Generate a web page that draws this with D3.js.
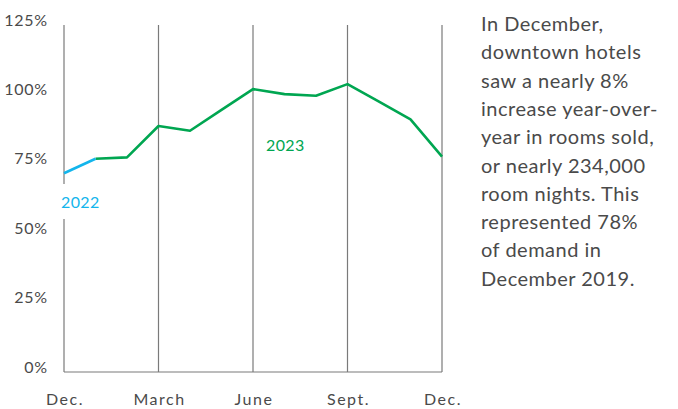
<!DOCTYPE html>
<html>
<head>
<meta charset="utf-8">
<script src="https://cdn.jsdelivr.net/npm/d3@7"></script>
<style>
  html, body { margin: 0; padding: 0; background: #fff; }
  svg { display: block; font-family: Lato, "Open Sans", sans-serif; }
</style>
</head>
<body>
<svg id="chart" width="678" height="409"></svg>
<script>
(function () {
  // month positions, Dec 2022 .. Dec 2023
  const months = ["Dec.", "Jan.", "Feb.", "March", "April", "May", "June",
    "July", "Aug.", "Sept.", "Oct.", "Nov.", "Dec."];
  const demand = [71.6, 76.8, 77.3, 88.6, 86.9, 94.4, 101.9, 100.1, 99.5, 103.7, 97.4, 91.0, 77.6];
  const tickMonths = [0, 3, 6, 9, 12];
  const yTicks = [0, 25, 50, 75, 100, 125];
  const note = [
    "In December,",
    "downtown hotels",
    "saw a nearly 8%",
    "increase year-over-",
    "year in rooms sold,",
    "or nearly 234,000",
    "room nights. This",
    "represented 78%",
    "of demand in",
    "December 2019.",
  ];

  const blue = "#13b5ec";
  const green = "#00a651";
  const grey = "#7a7a7a";
  const ink = "#4a4a4a";

  const svg = d3.select("#chart");

  const x = d3.scaleLinear().domain([0, months.length - 1]).range([64, 442]);
  const y = d3.scaleLinear().domain([0, 125]).range([372, 25]);

  // vertical grid lines
  svg.append("g")
    .selectAll("line")
    .data(tickMonths)
    .join("line")
    .attr("x1", (d) => x(d))
    .attr("x2", (d) => x(d))
    .attr("y1", y(125))
    .attr("y2", y(0))
    .style("stroke", grey)
    .style("stroke-width", "1.2px");

  // baseline
  svg.append("line")
    .attr("x1", x(0))
    .attr("x2", x(12))
    .attr("y1", y(0))
    .attr("y2", y(0))
    .style("stroke", grey)
    .style("stroke-width", "1.2px");

  // y labels
  svg.append("g")
    .selectAll("text")
    .data(yTicks)
    .join("text")
    .attr("x", 48)
    .attr("y", (d) => y(d) - 5)
    .attr("dy", "0.35em")
    .attr("text-anchor", "end")
    .style("font-size", "16px")
    .style("letter-spacing", "0.8px")
    .style("fill", ink)
    .text((d) => d + "%");

  // month labels
  svg.append("g")
    .selectAll("text")
    .data(tickMonths)
    .join("text")
    .attr("x", (d) => x(d) + 1)
    .attr("y", 399)
    .attr("dy", "0.35em")
    .attr("text-anchor", "middle")
    .style("font-size", "16px")
    .style("letter-spacing", "1.5px")
    .style("fill", ink)
    .text((d) => months[d]);

  const line = d3.line()
    .x((d) => x(d.i))
    .y((d) => y(d.v));

  const pts = demand.map((v, i) => ({ i, v }));

  svg.append("path")
    .datum(pts.slice(1))
    .attr("d", line)
    .style("fill", "none")
    .style("stroke", green)
    .style("stroke-width", "2.6px")
    .style("stroke-linejoin", "round");

  svg.append("path")
    .datum(pts.slice(0, 2))
    .attr("d", line)
    .style("fill", "none")
    .style("stroke", blue)
    .style("stroke-width", "2.6px")
    .style("stroke-linejoin", "round");

  // year labels (2022 sits on a white patch over the first grid line)
  svg.append("rect")
    .attr("x", x(0) - 3)
    .attr("y", 184)
    .attr("width", 42)
    .attr("height", 35)
    .style("fill", "#fff");

  svg.append("text")
    .attr("x", x(0) - 3)
    .attr("y", 202)
    .attr("dy", "0.35em")
    .style("font-size", "16px")
    .style("letter-spacing", "0.4px")
    .style("fill", blue)
    .text("2022");

  svg.append("text")
    .attr("x", 266)
    .attr("y", 145)
    .attr("dy", "0.35em")
    .style("font-size", "16px")
    .style("letter-spacing", "0.4px")
    .style("fill", green)
    .text("2023");

  // side note
  svg.append("g")
    .selectAll("text")
    .data(note)
    .join("text")
    .attr("x", 481)
    .attr("y", (d, i) => 31 + i * 28.3)
    .style("font-size", "20px")
    .style("letter-spacing", "0.5px")
    .style("fill", ink)
    .text((d) => d);
})();
</script>
</body>
</html>
